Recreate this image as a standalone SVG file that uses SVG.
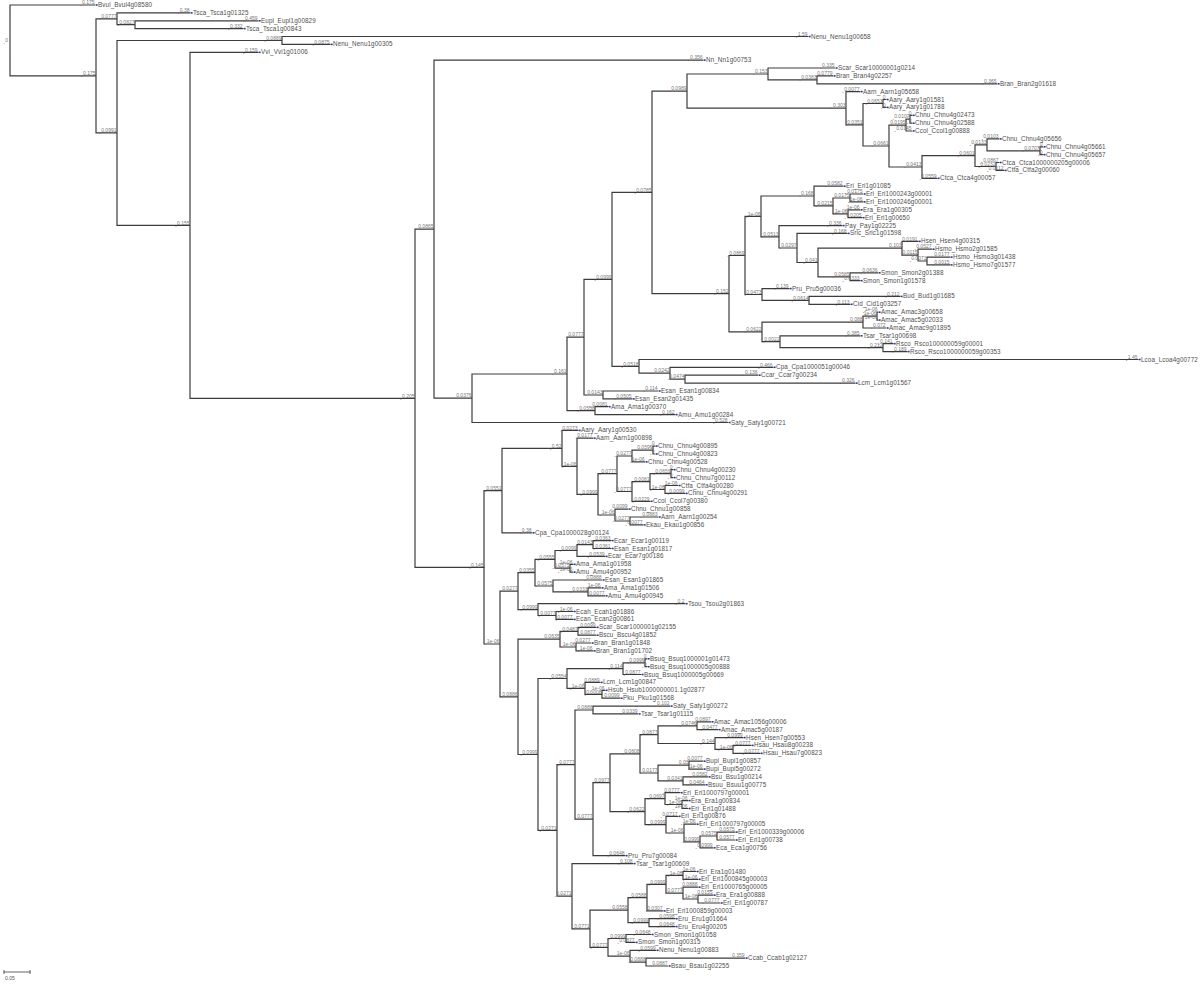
<svg xmlns="http://www.w3.org/2000/svg" xmlns:xlink="http://www.w3.org/1999/xlink" width="1200" height="984" viewBox="0 0 1200 984">
<defs>
<style>
.c{fill:none;stroke:#3c3c3c;stroke-width:1.2;stroke-linecap:square}
.l text{font-family:"Liberation Sans",Arial,sans-serif;font-size:5px;fill:#777;text-anchor:end}
.r{fill:#d22;font-size:7px;baseline-shift:-2.2px}
.lf text{font-family:"Liberation Sans",Arial,sans-serif;font-size:6.3px;fill:#505050;letter-spacing:0.1px}
.dot{fill:#2233cc}
</style>
<rect id="d" class="dot" x="-1" y="-0.8" width="1.6" height="1.6"/>
</defs>
<rect width="1200" height="984" fill="#fff"/>
<g id="connectors">
<path class="c" d="M10 5V75.9M10 5H95M10 75.9H96M96 18.8V132.9M96 18.8H117M96 132.9H117M117 12.9V24.7M117 12.9H190M117 24.7H135M135 20.8V28.6M135 20.8H258M135 28.6H243M117 40.5V225.3M117 40.5H282M117 225.3H190M282 36.5V44.4M282 36.5H808M282 44.4H330M190 52.3V398.3M190 52.3H258M190 398.3H415M415 229.2V567.3M415 229.2H434M415 567.3H484M434 60.1V398.2M434 60.1H703M434 398.2H472M472 374V422.5M472 374H567M472 422.5H728M567 337.2V410.7M567 337.2H584M567 410.7H595M595 406.7V414.6M595 406.7H608M595 414.6H675M584 279.4V395M584 279.4H612M584 395H603M603 391V398.9M603 391H658M603 398.9H632M612 192.4V366.4M612 192.4H652M612 366.4H639M639 359.5V373.2M639 359.5H1138M639 373.2H670M670 367.3V379.2M670 367.3H773M670 379.2H685M685 375.2V383.1M685 375.2H758M685 383.1H855M652 91.1V293.7M652 91.1H687M652 293.7H729M687 74V108.2M687 74H768M687 108.2H846M768 68V79.9M768 68H835M768 79.9H817M817 75.9V83.8M817 75.9H833M817 83.8H997M846 91.6V124.8M846 91.6H860M846 124.8H863M863 103.5V146M863 103.5H883M863 146H889M883 99.5V107.4M883 99.5H886M883 107.4H886M889 125.1V167M889 125.1H906M889 167H922M906 119.2V131M906 119.2H910M906 131H912M910 115.3V123.2M910 115.3H912M910 123.2H912M922 155.6V178.3M922 155.6H975M922 178.3H937M975 144.8V166.5M975 144.8H987M975 166.5H996M987 138.9V150.8M987 138.9H999M987 150.8H1040M1040 146.8V154.7M1040 146.8H1043M1040 154.7H1043M996 162.5V170.4M996 162.5H999M996 170.4H1004M729 255.5V331.9M729 255.5H745M729 331.9H762M745 216.4V294.5M745 216.4H761M745 294.5H762M761 196V236.8M761 196H814M761 236.8H779M814 186.2V205.9M814 186.2H843M814 205.9H833M833 198V213.8M833 198H850M833 213.8H848M850 194V201.9M850 194H863M850 201.9H863M848 209.8V217.7M848 209.8H860M848 217.7H862M779 225.6V248M779 225.6H842M779 248H797M797 233.4V262.5M797 233.4H847M797 262.5H818M818 248.2V276.8M818 248.2H902M818 276.8H850M902 241.3V255.1M902 241.3H918M902 255.1H918M918 249.2V261M918 249.2H932M918 261H927M927 257.1V264.9M927 257.1H950M927 264.9H950M850 272.8V280.7M850 272.8H878M850 280.7H860M762 288.6V300.4M762 288.6H789M762 300.4H809M809 296.4V304.3M809 296.4H900M809 304.3H850M762 322.1V341.7M762 322.1H863M762 341.7H780M863 316.2V328M863 316.2H877M863 328H886M877 312.2V320.1M877 312.2H878M877 320.1H878M780 335.8V347.7M780 335.8H860M780 347.7H883M883 343.7V351.6M883 343.7H893M883 351.6H907"/>
<path class="c" d="M484 490.6V644M484 490.6H502M484 644H500M502 448.4V532.8M502 448.4H562M502 532.8H532M562 430.4V466.3M562 430.4H578M562 466.3H577M577 438.2V494.4M577 438.2H593M577 494.4H598M598 473.7V515M598 473.7H617M598 515H615M617 456V491.5M617 456H632M617 491.5H632M632 450.1V461.9M632 450.1H653M632 461.9H645M653 446.1V454M653 446.1H655M653 454H655M632 481.6V501.3M632 481.6H650M632 501.3H650M650 473.7V489.5M650 473.7H671M650 489.5H665M671 469.7V477.6M671 469.7H673M671 477.6H673M665 485.5V493.4M665 485.5H678M665 493.4H685M615 509.1V521M615 509.1H628M615 521H630M630 517V524.9M630 517H658M630 524.9H643M500 591.2V696.8M500 591.2H518M500 696.8H518M518 572.7V609.6M518 572.7H535M518 609.6H538M535 559.4V586M535 559.4H555M535 586H553M555 550.5V568.2M555 550.5H577M555 568.2H570M577 544.6V556.4M577 544.6H593M577 556.4H605M593 540.6V548.5M593 540.6H611M593 548.5H611M570 564.3V572.1M570 564.3H573M570 572.1H573M553 580V591.9M553 580H602M553 591.9H588M588 587.9V595.8M588 587.9H601M588 595.8H605M538 603.7V615.5M538 603.7H685M538 615.5H556M556 611.5V619.4M556 611.5H573M556 619.4H573M518 639.1V754.5M518 639.1H560M518 754.5H538M560 631.3V647M560 631.3H578M560 647H576M578 627.3V635.2M578 627.3H596M578 635.2H596M576 643V650.9M576 643H591M576 650.9H593M538 678.5V830.4M538 678.5H567M538 830.4H557M567 668.6V688.3M567 668.6H623M567 688.3H585M623 662.8V674.5M623 662.8H645M623 674.5H641M645 658.8V666.7M645 658.8H647M645 666.7H647M585 682.4V694.3M585 682.4H600M585 694.3H602M602 690.3V698.2M602 690.3H605M602 698.2H620M557 764.6V896.2M557 764.6H575M557 896.2H572M575 710V819.2M575 710H593M575 819.2H593M593 706.1V713.9M593 706.1H670M593 713.9H638M593 782.7V855.7M593 782.7H610M593 855.7H625M610 753.8V811.6M610 753.8H640M610 811.6H645M640 734.6V773M640 734.6H658M640 773H658M658 725.8V743.5M658 725.8H697M658 743.5H715M697 721.8V729.7M697 721.8H711M697 729.7H718M715 737.6V749.4M715 737.6H743M715 749.4H733M733 745.4V753.3M733 745.4H751M733 753.3H760M658 765.2V780.9M658 765.2H689M658 780.9H683M689 761.2V769.1M689 761.2H703M689 769.1H703M683 776.9V784.8M683 776.9H708M683 784.8H705M645 798.6V824.7M645 798.6H665M645 824.7H666M665 792.7V804.5M665 792.7H680M665 804.5H682M682 800.6V808.5M682 800.6H688M682 808.5H688M666 816.3V833M666 816.3H678M666 833H684M684 824.2V841.9M684 824.2H696M684 841.9H700M700 836V847.8M700 836H717M700 847.8H713M717 832.1V840M717 832.1H735M717 840H735M572 863.6V928.8M572 863.6H633M572 928.8H590M590 910.2V947.4M590 910.2H628M590 947.4H608M628 897.6V922.7M628 897.6H647M628 922.7H649M647 884.3V910.9M647 884.3H666M647 910.9H663M666 875.4V893.1M666 875.4H683M666 893.1H683M683 871.5V879.3M683 871.5H696M683 879.3H698M683 887.2V899M683 887.2H698M683 899H698M698 895.1V903M698 895.1H713M698 903H720M649 918.7V926.6M649 918.7H675M649 926.6H675M608 938.5V956.2M608 938.5H626M608 956.2H630M626 934.5V942.4M626 934.5H651M626 942.4H635M630 950.3V962.1M630 950.3H656M630 962.1H646M646 958.1V966M646 958.1H745M646 966H668"/>
</g>
<g id="branch-labels" class="l">
<text x="8" y="42"><tspan class="r">.</tspan>0</text>
<text x="95.5" y="75.1"><tspan class="r">.</tspan>0.175</text>
<text x="116.5" y="18"><tspan class="r">.</tspan>0.0777</text>
<text x="134.5" y="23.9"><tspan class="r">.</tspan>0.0827</text>
<text x="116.5" y="132.1"><tspan class="r">.</tspan>0.0991</text>
<text x="281.5" y="39.7"><tspan class="r">.</tspan>0.0889</text>
<text x="189.5" y="224.5"><tspan class="r">.</tspan>0.155</text>
<text x="414.5" y="397.5"><tspan class="r">.</tspan>0.205</text>
<text x="433.5" y="228.4"><tspan class="r">.</tspan>0.0865</text>
<text x="471.5" y="397.4"><tspan class="r">.</tspan>0.0376</text>
<text x="566.5" y="373.2"><tspan class="r">.</tspan>0.161</text>
<text x="583.5" y="336.4"><tspan class="r">.</tspan>0.0777</text>
<text x="594.5" y="409.9"><tspan class="r">.</tspan>0.0558</text>
<text x="611.5" y="278.6"><tspan class="r">.</tspan>0.0999</text>
<text x="602.5" y="394.2"><tspan class="r">.</tspan>0.0143</text>
<text x="651.5" y="191.6"><tspan class="r">.</tspan>0.0785</text>
<text x="638.5" y="365.6"><tspan class="r">.</tspan>0.0518</text>
<text x="669.5" y="372.4"><tspan class="r">.</tspan>0.0242</text>
<text x="684.5" y="378.4"><tspan class="r">.</tspan>0.0474</text>
<text x="686.5" y="90.3"><tspan class="r">.</tspan>0.0989</text>
<text x="728.5" y="292.9"><tspan class="r">.</tspan>0.152</text>
<text x="767.5" y="73.2"><tspan class="r">.</tspan>0.153</text>
<text x="845.5" y="107.4"><tspan class="r">.</tspan>0.303</text>
<text x="816.5" y="79.1"><tspan class="r">.</tspan>0.0383</text>
<text x="862.5" y="124"><tspan class="r">.</tspan>0.0351</text>
<text x="882.5" y="102.7"><tspan class="r">.</tspan>0.0651</text>
<text x="888.5" y="145.2"><tspan class="r">.</tspan>0.0661</text>
<text x="905.5" y="124.3"><tspan class="r">.</tspan>0.0195</text>
<text x="909.5" y="118.4"><tspan class="r">.</tspan>0.0107</text>
<text x="921.5" y="166.2"><tspan class="r">.</tspan>0.0413</text>
<text x="974.5" y="154.8"><tspan class="r">.</tspan>0.0601</text>
<text x="986.5" y="144"><tspan class="r">.</tspan>0.0133</text>
<text x="1039.5" y="150"><tspan class="r">.</tspan>0.0707</text>
<text x="995.5" y="165.7"><tspan class="r">.</tspan>0.0232</text>
<text x="744.5" y="254.7"><tspan class="r">.</tspan>0.0869</text>
<text x="761.5" y="331.1"><tspan class="r">.</tspan>0.0622</text>
<text x="760.5" y="215.6"><tspan class="r">.</tspan>1e-06</text>
<text x="761.5" y="293.7"><tspan class="r">.</tspan>0.0473</text>
<text x="813.5" y="195.2"><tspan class="r">.</tspan>0.168</text>
<text x="778.5" y="236"><tspan class="r">.</tspan>0.0513</text>
<text x="832.5" y="205.1"><tspan class="r">.</tspan>0.0215</text>
<text x="849.5" y="197.2"><tspan class="r">.</tspan>0.0175</text>
<text x="847.5" y="213"><tspan class="r">.</tspan>1e-06</text>
<text x="796.5" y="247.2"><tspan class="r">.</tspan>0.0297</text>
<text x="817.5" y="261.7"><tspan class="r">.</tspan>0.041</text>
<text x="901.5" y="247.4"><tspan class="r">.</tspan>0.103</text>
<text x="849.5" y="276"><tspan class="r">.</tspan>0.0585</text>
<text x="917.5" y="254.3"><tspan class="r">.</tspan>0.0115</text>
<text x="926.5" y="260.2"><tspan class="r">.</tspan>0.0071</text>
<text x="808.5" y="299.6"><tspan class="r">.</tspan>0.0614</text>
<text x="862.5" y="321.3"><tspan class="r">.</tspan>0.088</text>
<text x="779.5" y="340.9"><tspan class="r">.</tspan>0.0022</text>
<text x="876.5" y="315.4"><tspan class="r">.</tspan>1e-06</text>
<text x="882.5" y="346.9"><tspan class="r">.</tspan>0.212</text>
<text x="483.5" y="566.5"><tspan class="r">.</tspan>0.145</text>
<text x="501.5" y="489.8"><tspan class="r">.</tspan>0.0551</text>
<text x="499.5" y="643.2"><tspan class="r">.</tspan>1e-06</text>
<text x="561.5" y="447.6"><tspan class="r">.</tspan>0.52</text>
<text x="576.5" y="465.5"><tspan class="r">.</tspan>1e-06</text>
<text x="597.5" y="493.6"><tspan class="r">.</tspan>0.0999</text>
<text x="616.5" y="472.9"><tspan class="r">.</tspan>0.0777</text>
<text x="614.5" y="514.2"><tspan class="r">.</tspan>1e-06</text>
<text x="631.5" y="455.2"><tspan class="r">.</tspan>0.0277</text>
<text x="631.5" y="490.7"><tspan class="r">.</tspan>0.0777</text>
<text x="652.5" y="449.3"><tspan class="r">.</tspan>0.0599</text>
<text x="649.5" y="480.8"><tspan class="r">.</tspan>0.0081</text>
<text x="670.5" y="472.9"><tspan class="r">.</tspan>0.0651</text>
<text x="664.5" y="488.7"><tspan class="r">.</tspan>1e-06</text>
<text x="629.5" y="520.2"><tspan class="r">.</tspan>0.0277</text>
<text x="517.5" y="590.4"><tspan class="r">.</tspan>0.0277</text>
<text x="517.5" y="696"><tspan class="r">.</tspan>0.0886</text>
<text x="534.5" y="571.9"><tspan class="r">.</tspan>0.0355</text>
<text x="537.5" y="608.8"><tspan class="r">.</tspan>0.0999</text>
<text x="554.5" y="558.6"><tspan class="r">.</tspan>0.0555</text>
<text x="552.5" y="585.2"><tspan class="r">.</tspan>0.0575</text>
<text x="576.5" y="549.7"><tspan class="r">.</tspan>0.0099</text>
<text x="569.5" y="567.4"><tspan class="r">.</tspan>0.0575</text>
<text x="592.5" y="543.8"><tspan class="r">.</tspan>0.0143</text>
<text x="587.5" y="591.1"><tspan class="r">.</tspan>0.0331</text>
<text x="555.5" y="614.7"><tspan class="r">.</tspan>0.0077</text>
<text x="559.5" y="638.3"><tspan class="r">.</tspan>0.0635</text>
<text x="537.5" y="753.7"><tspan class="r">.</tspan>0.0999</text>
<text x="577.5" y="630.5"><tspan class="r">.</tspan>0.0487</text>
<text x="575.5" y="646.2"><tspan class="r">.</tspan>1e-06</text>
<text x="566.5" y="677.7"><tspan class="r">.</tspan>0.0554</text>
<text x="556.5" y="829.6"><tspan class="r">.</tspan>0.0271</text>
<text x="622.5" y="667.8"><tspan class="r">.</tspan>0.114</text>
<text x="584.5" y="687.5"><tspan class="r">.</tspan>1e-06</text>
<text x="644.5" y="662"><tspan class="r">.</tspan>0.0999</text>
<text x="601.5" y="693.5"><tspan class="r">.</tspan>0.0008</text>
<text x="574.5" y="763.8"><tspan class="r">.</tspan>0.0777</text>
<text x="571.5" y="895.4"><tspan class="r">.</tspan>0.0271</text>
<text x="592.5" y="709.2"><tspan class="r">.</tspan>0.0888</text>
<text x="592.5" y="818.4"><tspan class="r">.</tspan>0.0777</text>
<text x="609.5" y="781.9"><tspan class="r">.</tspan>0.0977</text>
<text x="639.5" y="753"><tspan class="r">.</tspan>0.0808</text>
<text x="644.5" y="810.8"><tspan class="r">.</tspan>0.0622</text>
<text x="657.5" y="733.8"><tspan class="r">.</tspan>0.0877</text>
<text x="657.5" y="772.2"><tspan class="r">.</tspan>0.0177</text>
<text x="696.5" y="725"><tspan class="r">.</tspan>0.0746</text>
<text x="714.5" y="742.7"><tspan class="r">.</tspan>0.144</text>
<text x="732.5" y="748.6"><tspan class="r">.</tspan>1e-06</text>
<text x="688.5" y="764.4"><tspan class="r">.</tspan>0.03</text>
<text x="682.5" y="780.1"><tspan class="r">.</tspan>0.0341</text>
<text x="664.5" y="797.8"><tspan class="r">.</tspan>0.0697</text>
<text x="665.5" y="823.9"><tspan class="r">.</tspan>0.0999</text>
<text x="681.5" y="803.7"><tspan class="r">.</tspan>1e-06</text>
<text x="683.5" y="832.2"><tspan class="r">.</tspan>1e-06</text>
<text x="699.5" y="841.1"><tspan class="r">.</tspan>0.0999</text>
<text x="716.5" y="835.2"><tspan class="r">.</tspan>0.0575</text>
<text x="589.5" y="928"><tspan class="r">.</tspan>0.0771</text>
<text x="627.5" y="909.4"><tspan class="r">.</tspan>0.0558</text>
<text x="607.5" y="946.6"><tspan class="r">.</tspan>0.0777</text>
<text x="646.5" y="896.8"><tspan class="r">.</tspan>0.0588</text>
<text x="648.5" y="921.9"><tspan class="r">.</tspan>0.0999</text>
<text x="665.5" y="883.5"><tspan class="r">.</tspan>0.0999</text>
<text x="682.5" y="874.6"><tspan class="r">.</tspan>1e-06</text>
<text x="682.5" y="892.3"><tspan class="r">.</tspan>0.0777</text>
<text x="697.5" y="898.2"><tspan class="r">.</tspan>1e-06</text>
<text x="625.5" y="937.7"><tspan class="r">.</tspan>0.0999</text>
<text x="629.5" y="955.4"><tspan class="r">.</tspan>1e-06</text>
<text x="645.5" y="961.3"><tspan class="r">.</tspan>0.0888</text>
<text x="94.5" y="4.2"><tspan class="r">.</tspan>0.175</text>
<text x="189.5" y="12.1"><tspan class="r">.</tspan>0.38</text>
<text x="257.5" y="20"><tspan class="r">.</tspan>0.459</text>
<text x="242.5" y="27.8"><tspan class="r">.</tspan>0.332</text>
<text x="807.5" y="35.7"><tspan class="r">.</tspan>1.59</text>
<text x="329.5" y="43.6"><tspan class="r">.</tspan>0.0875</text>
<text x="257.5" y="51.5"><tspan class="r">.</tspan>0.159</text>
<text x="702.5" y="59.3"><tspan class="r">.</tspan>0.356</text>
<text x="834.5" y="67.2"><tspan class="r">.</tspan>0.335</text>
<text x="832.5" y="75.1"><tspan class="r">.</tspan>0.0779</text>
<text x="996.5" y="83"><tspan class="r">.</tspan>0.365</text>
<text x="859.5" y="90.8"><tspan class="r">.</tspan>0.0077</text>
<text x="885.5" y="98.7"><tspan class="r">.</tspan>0</text>
<text x="885.5" y="106.6"><tspan class="r">.</tspan>0</text>
<text x="911.5" y="114.5"><tspan class="r">.</tspan>0</text>
<text x="911.5" y="122.4"><tspan class="r">.</tspan>0</text>
<text x="911.5" y="130.2"><tspan class="r">.</tspan>0.0145</text>
<text x="998.5" y="138.1"><tspan class="r">.</tspan>0.0103</text>
<text x="1042.5" y="146"><tspan class="r">.</tspan>0</text>
<text x="1042.5" y="153.9"><tspan class="r">.</tspan>0</text>
<text x="998.5" y="161.7"><tspan class="r">.</tspan>0.0867</text>
<text x="1003.5" y="169.6"><tspan class="r">.</tspan>0.0112</text>
<text x="936.5" y="177.5"><tspan class="r">.</tspan>0.0559</text>
<text x="842.5" y="185.4"><tspan class="r">.</tspan>0.0582</text>
<text x="862.5" y="193.2"><tspan class="r">.</tspan>0.0175</text>
<text x="862.5" y="201.1"><tspan class="r">.</tspan>1e-06</text>
<text x="859.5" y="209"><tspan class="r">.</tspan>1e-06</text>
<text x="861.5" y="216.9"><tspan class="r">.</tspan>0.0205</text>
<text x="841.5" y="224.8"><tspan class="r">.</tspan>0.336</text>
<text x="846.5" y="232.6"><tspan class="r">.</tspan>0.168</text>
<text x="917.5" y="240.5"><tspan class="r">.</tspan>0.0191</text>
<text x="931.5" y="248.4"><tspan class="r">.</tspan>0.0527</text>
<text x="949.5" y="256.3"><tspan class="r">.</tspan>0.0177</text>
<text x="949.5" y="264.1"><tspan class="r">.</tspan>0.0015</text>
<text x="877.5" y="272"><tspan class="r">.</tspan>0.0636</text>
<text x="859.5" y="279.9"><tspan class="r">.</tspan>0.0333</text>
<text x="788.5" y="287.8"><tspan class="r">.</tspan>0.139</text>
<text x="899.5" y="295.6"><tspan class="r">.</tspan>0.212</text>
<text x="849.5" y="303.5"><tspan class="r">.</tspan>0.113</text>
<text x="877.5" y="311.4"><tspan class="r">.</tspan>1e-06</text>
<text x="877.5" y="319.3"><tspan class="r">.</tspan>1e-06</text>
<text x="885.5" y="327.2"><tspan class="r">.</tspan>0.072</text>
<text x="859.5" y="335"><tspan class="r">.</tspan>0.385</text>
<text x="892.5" y="342.9"><tspan class="r">.</tspan>0.141</text>
<text x="906.5" y="350.8"><tspan class="r">.</tspan>0.189</text>
<text x="1137.5" y="358.7"><tspan class="r">.</tspan>1.45</text>
<text x="772.5" y="366.5"><tspan class="r">.</tspan>0.466</text>
<text x="757.5" y="374.4"><tspan class="r">.</tspan>0.136</text>
<text x="854.5" y="382.3"><tspan class="r">.</tspan>0.326</text>
<text x="657.5" y="390.2"><tspan class="r">.</tspan>0.114</text>
<text x="631.5" y="398.1"><tspan class="r">.</tspan>0.0505</text>
<text x="607.5" y="405.9"><tspan class="r">.</tspan>0.0081</text>
<text x="674.5" y="413.8"><tspan class="r">.</tspan>0.162</text>
<text x="727.5" y="421.7"><tspan class="r">.</tspan>0.528</text>
<text x="577.5" y="429.6"><tspan class="r">.</tspan>0.0273</text>
<text x="592.5" y="437.4"><tspan class="r">.</tspan>0.0177</text>
<text x="654.5" y="445.3"><tspan class="r">.</tspan>0</text>
<text x="654.5" y="453.2"><tspan class="r">.</tspan>0</text>
<text x="644.5" y="461.1"><tspan class="r">.</tspan>1e-06</text>
<text x="672.5" y="468.9"><tspan class="r">.</tspan>0</text>
<text x="672.5" y="476.8"><tspan class="r">.</tspan>0</text>
<text x="677.5" y="484.7"><tspan class="r">.</tspan>1e-06</text>
<text x="684.5" y="492.6"><tspan class="r">.</tspan>0.0099</text>
<text x="649.5" y="500.5"><tspan class="r">.</tspan>0.0229</text>
<text x="627.5" y="508.3"><tspan class="r">.</tspan>0.0099</text>
<text x="657.5" y="516.2"><tspan class="r">.</tspan>0.0883</text>
<text x="642.5" y="524.1"><tspan class="r">.</tspan>0.0077</text>
<text x="531.5" y="532"><tspan class="r">.</tspan>0.38</text>
<text x="610.5" y="539.8"><tspan class="r">.</tspan>0.0363</text>
<text x="610.5" y="547.7"><tspan class="r">.</tspan>0.0361</text>
<text x="604.5" y="555.6"><tspan class="r">.</tspan>0.0539</text>
<text x="572.5" y="563.5"><tspan class="r">.</tspan>1e-06</text>
<text x="572.5" y="571.3"><tspan class="r">.</tspan>1e-06</text>
<text x="601.5" y="579.2"><tspan class="r">.</tspan>0.0888</text>
<text x="600.5" y="587.1"><tspan class="r">.</tspan>1e-06</text>
<text x="604.5" y="595"><tspan class="r">.</tspan>0.0077</text>
<text x="684.5" y="602.9"><tspan class="r">.</tspan>0.2</text>
<text x="572.5" y="610.7"><tspan class="r">.</tspan>1e-06</text>
<text x="572.5" y="618.6"><tspan class="r">.</tspan>0.0077</text>
<text x="595.5" y="626.5"><tspan class="r">.</tspan>0.0099</text>
<text x="595.5" y="634.4"><tspan class="r">.</tspan>0.0877</text>
<text x="590.5" y="642.2"><tspan class="r">.</tspan>0.0277</text>
<text x="592.5" y="650.1"><tspan class="r">.</tspan>1e-06</text>
<text x="646.5" y="658"><tspan class="r">.</tspan>0</text>
<text x="646.5" y="665.9"><tspan class="r">.</tspan>0</text>
<text x="640.5" y="673.7"><tspan class="r">.</tspan>0.0877</text>
<text x="599.5" y="681.6"><tspan class="r">.</tspan>0.0889</text>
<text x="604.5" y="689.5"><tspan class="r">.</tspan>1e-06</text>
<text x="619.5" y="697.4"><tspan class="r">.</tspan>0.0099</text>
<text x="669.5" y="705.3"><tspan class="r">.</tspan>0.102</text>
<text x="637.5" y="713.1"><tspan class="r">.</tspan>0.0339</text>
<text x="710.5" y="721"><tspan class="r">.</tspan>0.0897</text>
<text x="717.5" y="728.9"><tspan class="r">.</tspan>0.0477</text>
<text x="742.5" y="736.8"><tspan class="r">.</tspan>0.0999</text>
<text x="750.5" y="744.6"><tspan class="r">.</tspan>0.0777</text>
<text x="759.5" y="752.5"><tspan class="r">.</tspan>0.0777</text>
<text x="702.5" y="760.4"><tspan class="r">.</tspan>0.0077</text>
<text x="702.5" y="768.3"><tspan class="r">.</tspan>1e-06</text>
<text x="707.5" y="776.1"><tspan class="r">.</tspan>0.0582</text>
<text x="704.5" y="784"><tspan class="r">.</tspan>0.0464</text>
<text x="679.5" y="791.9"><tspan class="r">.</tspan>0.0777</text>
<text x="687.5" y="799.8"><tspan class="r">.</tspan>1e-06</text>
<text x="687.5" y="807.7"><tspan class="r">.</tspan>1e-06</text>
<text x="677.5" y="815.5"><tspan class="r">.</tspan>0.0717</text>
<text x="695.5" y="823.4"><tspan class="r">.</tspan>1e-06</text>
<text x="734.5" y="831.3"><tspan class="r">.</tspan>0.0575</text>
<text x="734.5" y="839.2"><tspan class="r">.</tspan>0.0577</text>
<text x="712.5" y="847"><tspan class="r">.</tspan>0.0999</text>
<text x="624.5" y="854.9"><tspan class="r">.</tspan>0.0648</text>
<text x="632.5" y="862.8"><tspan class="r">.</tspan>0.108</text>
<text x="695.5" y="870.7"><tspan class="r">.</tspan>1e-06</text>
<text x="697.5" y="878.5"><tspan class="r">.</tspan>1e-06</text>
<text x="697.5" y="886.4"><tspan class="r">.</tspan>0.0888</text>
<text x="712.5" y="894.3"><tspan class="r">.</tspan>0.0155</text>
<text x="719.5" y="902.2"><tspan class="r">.</tspan>0.0777</text>
<text x="662.5" y="910.1"><tspan class="r">.</tspan>0.0307</text>
<text x="674.5" y="917.9"><tspan class="r">.</tspan>0.0598</text>
<text x="674.5" y="925.8"><tspan class="r">.</tspan>0.0648</text>
<text x="650.5" y="933.7"><tspan class="r">.</tspan>0.0648</text>
<text x="634.5" y="941.6"><tspan class="r">.</tspan>0.0877</text>
<text x="655.5" y="949.5"><tspan class="r">.</tspan>0.0599</text>
<text x="744.5" y="957.3"><tspan class="r">.</tspan>0.359</text>
<text x="667.5" y="965.2"><tspan class="r">.</tspan>0.0887</text>
</g>
<g class="lf">
<g id="L0" transform="translate(97,5)"><use href="#d"/><text x="1" y="2">Bvul_Bvul4g08580</text></g>
<g id="L1" transform="translate(192,12.9)"><use href="#d"/><text x="1" y="2">Tsca_Tsca1g01325</text></g>
<g id="L2" transform="translate(260,20.8)"><use href="#d"/><text x="1" y="2">Eupl_Eupl1g00829</text></g>
<g id="L3" transform="translate(245,28.6)"><use href="#d"/><text x="1" y="2">Tsca_Tsca1g00843</text></g>
<g id="L4" transform="translate(810,36.5)"><use href="#d"/><text x="1" y="2">Nenu_Nenu1g00658</text></g>
<g id="L5" transform="translate(332,44.4)"><use href="#d"/><text x="1" y="2">Nenu_Nenu1g00305</text></g>
<g id="L6" transform="translate(260,52.3)"><use href="#d"/><text x="1" y="2">Vvi_Vvi1g01006</text></g>
<g id="L7" transform="translate(705,60.1)"><use href="#d"/><text x="1" y="2">Nn_Nn1g00753</text></g>
<g id="L8" transform="translate(837,68)"><use href="#d"/><text x="1" y="2">Scar_Scar10000001g0214</text></g>
<g id="L9" transform="translate(835,75.9)"><use href="#d"/><text x="1" y="2">Bran_Bran4g02257</text></g>
<g id="L10" transform="translate(999,83.8)"><use href="#d"/><text x="1" y="2">Bran_Bran2g01618</text></g>
<g id="L11" transform="translate(862,91.6)"><use href="#d"/><text x="1" y="2">Aarn_Aarn1g05658</text></g>
<g id="L12" transform="translate(888,99.5)"><use href="#d"/><text x="1" y="2">Aary_Aary1g01581</text></g>
<g id="L13" transform="translate(888,107.4)"><use href="#d"/><text x="1" y="2">Aary_Aary1g01788</text></g>
<g id="L14" transform="translate(914,115.3)"><use href="#d"/><text x="1" y="2">Chnu_Chnu4g02473</text></g>
<g id="L15" transform="translate(914,123.2)"><use href="#d"/><text x="1" y="2">Chnu_Chnu4g02588</text></g>
<g id="L16" transform="translate(914,131)"><use href="#d"/><text x="1" y="2">Ccol_Ccol1g00888</text></g>
<g id="L17" transform="translate(1001,138.9)"><use href="#d"/><text x="1" y="2">Chnu_Chnu4g05656</text></g>
<g id="L18" transform="translate(1045,146.8)"><use href="#d"/><text x="1" y="2">Chnu_Chnu4g05661</text></g>
<g id="L19" transform="translate(1045,154.7)"><use href="#d"/><text x="1" y="2">Chnu_Chnu4g05657</text></g>
<g id="L20" transform="translate(1001,162.5)"><use href="#d"/><text x="1" y="2">Ctca_Ctca1000000205g00006</text></g>
<g id="L21" transform="translate(1006,170.4)"><use href="#d"/><text x="1" y="2">Ctfa_Ctfa2g00060</text></g>
<g id="L22" transform="translate(939,178.3)"><use href="#d"/><text x="1" y="2">Ctca_Ctca4g00057</text></g>
<g id="L23" transform="translate(845,186.2)"><use href="#d"/><text x="1" y="2">Eri_Eri1g01085</text></g>
<g id="L24" transform="translate(865,194)"><use href="#d"/><text x="1" y="2">Eri_Eri1000243g00001</text></g>
<g id="L25" transform="translate(865,201.9)"><use href="#d"/><text x="1" y="2">Eri_Eri1000246g00001</text></g>
<g id="L26" transform="translate(862,209.8)"><use href="#d"/><text x="1" y="2">Era_Era1g00305</text></g>
<g id="L27" transform="translate(864,217.7)"><use href="#d"/><text x="1" y="2">Eri_Eri1g00650</text></g>
<g id="L28" transform="translate(844,225.6)"><use href="#d"/><text x="1" y="2">Pay_Pay1g02225</text></g>
<g id="L29" transform="translate(849,233.4)"><use href="#d"/><text x="1" y="2">Sric_Sric1g01598</text></g>
<g id="L30" transform="translate(920,241.3)"><use href="#d"/><text x="1" y="2">Hsen_Hsen4g00315</text></g>
<g id="L31" transform="translate(934,249.2)"><use href="#d"/><text x="1" y="2">Hsmo_Hsmo2g01585</text></g>
<g id="L32" transform="translate(952,257.1)"><use href="#d"/><text x="1" y="2">Hsmo_Hsmo3g01438</text></g>
<g id="L33" transform="translate(952,264.9)"><use href="#d"/><text x="1" y="2">Hsmo_Hsmo7g01577</text></g>
<g id="L34" transform="translate(880,272.8)"><use href="#d"/><text x="1" y="2">Smon_Smon2g01388</text></g>
<g id="L35" transform="translate(862,280.7)"><use href="#d"/><text x="1" y="2">Smon_Smon1g01578</text></g>
<g id="L36" transform="translate(791,288.6)"><use href="#d"/><text x="1" y="2">Pru_Pru5g00036</text></g>
<g id="L37" transform="translate(902,296.4)"><use href="#d"/><text x="1" y="2">Bud_Bud1g01685</text></g>
<g id="L38" transform="translate(852,304.3)"><use href="#d"/><text x="1" y="2">Cid_Cid1g03257</text></g>
<g id="L39" transform="translate(880,312.2)"><use href="#d"/><text x="1" y="2">Amac_Amac3g00658</text></g>
<g id="L40" transform="translate(880,320.1)"><use href="#d"/><text x="1" y="2">Amac_Amac5g02033</text></g>
<g id="L41" transform="translate(888,328)"><use href="#d"/><text x="1" y="2">Amac_Amac9g01895</text></g>
<g id="L42" transform="translate(862,335.8)"><use href="#d"/><text x="1" y="2">Tsar_Tsar1g00698</text></g>
<g id="L43" transform="translate(895,343.7)"><use href="#d"/><text x="1" y="2">Rsco_Rsco100000059g00001</text></g>
<g id="L44" transform="translate(909,351.6)"><use href="#d"/><text x="1" y="2">Rsco_Rsco1000000059g00353</text></g>
<g id="L45" transform="translate(1140,359.5)"><use href="#d"/><text x="1" y="2">Lcoa_Lcoa4g00772</text></g>
<g id="L46" transform="translate(775,367.3)"><use href="#d"/><text x="1" y="2">Cpa_Cpa1000051g00046</text></g>
<g id="L47" transform="translate(760,375.2)"><use href="#d"/><text x="1" y="2">Ccar_Ccar7g00234</text></g>
<g id="L48" transform="translate(857,383.1)"><use href="#d"/><text x="1" y="2">Lcm_Lcm1g01567</text></g>
<g id="L49" transform="translate(660,391)"><use href="#d"/><text x="1" y="2">Esan_Esan1g00834</text></g>
<g id="L50" transform="translate(634,398.9)"><use href="#d"/><text x="1" y="2">Esan_Esan2g01435</text></g>
<g id="L51" transform="translate(610,406.7)"><use href="#d"/><text x="1" y="2">Ama_Ama1g00370</text></g>
<g id="L52" transform="translate(677,414.6)"><use href="#d"/><text x="1" y="2">Amu_Amu1g00284</text></g>
<g id="L53" transform="translate(730,422.5)"><use href="#d"/><text x="1" y="2">Saty_Saty1g00721</text></g>
<g id="L54" transform="translate(580,430.4)"><use href="#d"/><text x="1" y="2">Aary_Aary1g00530</text></g>
<g id="L55" transform="translate(595,438.2)"><use href="#d"/><text x="1" y="2">Aarn_Aarn1g00898</text></g>
<g id="L56" transform="translate(657,446.1)"><use href="#d"/><text x="1" y="2">Chnu_Chnu4g00895</text></g>
<g id="L57" transform="translate(657,454)"><use href="#d"/><text x="1" y="2">Chnu_Chnu4g00823</text></g>
<g id="L58" transform="translate(647,461.9)"><use href="#d"/><text x="1" y="2">Chnu_Chnu4g00528</text></g>
<g id="L59" transform="translate(675,469.7)"><use href="#d"/><text x="1" y="2">Chnu_Chnu4g00230</text></g>
<g id="L60" transform="translate(675,477.6)"><use href="#d"/><text x="1" y="2">Chnu_Chnu7g00112</text></g>
<g id="L61" transform="translate(680,485.5)"><use href="#d"/><text x="1" y="2">Ctfa_Ctfa4g00280</text></g>
<g id="L62" transform="translate(687,493.4)"><use href="#d"/><text x="1" y="2">Chnu_Chnu4g00291</text></g>
<g id="L63" transform="translate(652,501.3)"><use href="#d"/><text x="1" y="2">Ccol_Ccol7g00380</text></g>
<g id="L64" transform="translate(630,509.1)"><use href="#d"/><text x="1" y="2">Chnu_Chnu1g00858</text></g>
<g id="L65" transform="translate(660,517)"><use href="#d"/><text x="1" y="2">Aarn_Aarn1g00254</text></g>
<g id="L66" transform="translate(645,524.9)"><use href="#d"/><text x="1" y="2">Ekau_Ekau1g00856</text></g>
<g id="L67" transform="translate(534,532.8)"><use href="#d"/><text x="1" y="2">Cpa_Cpa1000028g00124</text></g>
<g id="L68" transform="translate(613,540.6)"><use href="#d"/><text x="1" y="2">Ecar_Ecar1g00119</text></g>
<g id="L69" transform="translate(613,548.5)"><use href="#d"/><text x="1" y="2">Esan_Esan1g01817</text></g>
<g id="L70" transform="translate(607,556.4)"><use href="#d"/><text x="1" y="2">Ecar_Ecar7g00186</text></g>
<g id="L71" transform="translate(575,564.3)"><use href="#d"/><text x="1" y="2">Ama_Ama1g01958</text></g>
<g id="L72" transform="translate(575,572.1)"><use href="#d"/><text x="1" y="2">Amu_Amu4g00952</text></g>
<g id="L73" transform="translate(604,580)"><use href="#d"/><text x="1" y="2">Esan_Esan1g01865</text></g>
<g id="L74" transform="translate(603,587.9)"><use href="#d"/><text x="1" y="2">Ama_Ama1g01506</text></g>
<g id="L75" transform="translate(607,595.8)"><use href="#d"/><text x="1" y="2">Amu_Amu4g00945</text></g>
<g id="L76" transform="translate(687,603.7)"><use href="#d"/><text x="1" y="2">Tsou_Tsou2g01863</text></g>
<g id="L77" transform="translate(575,611.5)"><use href="#d"/><text x="1" y="2">Ecah_Ecah1g01886</text></g>
<g id="L78" transform="translate(575,619.4)"><use href="#d"/><text x="1" y="2">Ecan_Ecan2g00861</text></g>
<g id="L79" transform="translate(598,627.3)"><use href="#d"/><text x="1" y="2">Scar_Scar1000001g02155</text></g>
<g id="L80" transform="translate(598,635.2)"><use href="#d"/><text x="1" y="2">Bscu_Bscu4g01852</text></g>
<g id="L81" transform="translate(593,643)"><use href="#d"/><text x="1" y="2">Bran_Bran1g01848</text></g>
<g id="L82" transform="translate(595,650.9)"><use href="#d"/><text x="1" y="2">Bran_Bran1g01702</text></g>
<g id="L83" transform="translate(649,658.8)"><use href="#d"/><text x="1" y="2">Bsuq_Bsuq1000001g01473</text></g>
<g id="L84" transform="translate(649,666.7)"><use href="#d"/><text x="1" y="2">Bsuq_Bsuq1000005g00888</text></g>
<g id="L85" transform="translate(643,674.5)"><use href="#d"/><text x="1" y="2">Bsuq_Bsuq1000005g00669</text></g>
<g id="L86" transform="translate(602,682.4)"><use href="#d"/><text x="1" y="2">Lcm_Lcm1g00847</text></g>
<g id="L87" transform="translate(607,690.3)"><use href="#d"/><text x="1" y="2">Hsub_Hsub1000000001.1g02877</text></g>
<g id="L88" transform="translate(622,698.2)"><use href="#d"/><text x="1" y="2">Pku_Pku1g01568</text></g>
<g id="L89" transform="translate(672,706.1)"><use href="#d"/><text x="1" y="2">Saty_Saty1g00272</text></g>
<g id="L90" transform="translate(640,713.9)"><use href="#d"/><text x="1" y="2">Tsar_Tsar1g01115</text></g>
<g id="L91" transform="translate(713,721.8)"><use href="#d"/><text x="1" y="2">Amac_Amac1056g00006</text></g>
<g id="L92" transform="translate(720,729.7)"><use href="#d"/><text x="1" y="2">Amac_Amac5g00187</text></g>
<g id="L93" transform="translate(745,737.6)"><use href="#d"/><text x="1" y="2">Hsen_Hsen7g00553</text></g>
<g id="L94" transform="translate(753,745.4)"><use href="#d"/><text x="1" y="2">Hsau_Hsau8g00238</text></g>
<g id="L95" transform="translate(762,753.3)"><use href="#d"/><text x="1" y="2">Hsau_Hsau7g00823</text></g>
<g id="L96" transform="translate(705,761.2)"><use href="#d"/><text x="1" y="2">Bupi_Bupi1g00857</text></g>
<g id="L97" transform="translate(705,769.1)"><use href="#d"/><text x="1" y="2">Bupi_Bupi5g00272</text></g>
<g id="L98" transform="translate(710,776.9)"><use href="#d"/><text x="1" y="2">Bsu_Bsu1g00214</text></g>
<g id="L99" transform="translate(707,784.8)"><use href="#d"/><text x="1" y="2">Bsuu_Bsuu1g00775</text></g>
<g id="L100" transform="translate(682,792.7)"><use href="#d"/><text x="1" y="2">Eri_Eri1000797g00001</text></g>
<g id="L101" transform="translate(690,800.6)"><use href="#d"/><text x="1" y="2">Era_Era1g00834</text></g>
<g id="L102" transform="translate(690,808.5)"><use href="#d"/><text x="1" y="2">Eri_Eri1g01488</text></g>
<g id="L103" transform="translate(680,816.3)"><use href="#d"/><text x="1" y="2">Eri_Eri1g00876</text></g>
<g id="L104" transform="translate(698,824.2)"><use href="#d"/><text x="1" y="2">Eri_Eri1000797g00005</text></g>
<g id="L105" transform="translate(737,832.1)"><use href="#d"/><text x="1" y="2">Eri_Eri1000339g00006</text></g>
<g id="L106" transform="translate(737,840)"><use href="#d"/><text x="1" y="2">Eri_Eri1g00738</text></g>
<g id="L107" transform="translate(715,847.8)"><use href="#d"/><text x="1" y="2">Eca_Eca1g00756</text></g>
<g id="L108" transform="translate(627,855.7)"><use href="#d"/><text x="1" y="2">Pru_Pru7g00084</text></g>
<g id="L109" transform="translate(635,863.6)"><use href="#d"/><text x="1" y="2">Tsar_Tsar1g00609</text></g>
<g id="L110" transform="translate(698,871.5)"><use href="#d"/><text x="1" y="2">Eri_Era1g01480</text></g>
<g id="L111" transform="translate(700,879.3)"><use href="#d"/><text x="1" y="2">Eri_Eri1000845g00003</text></g>
<g id="L112" transform="translate(700,887.2)"><use href="#d"/><text x="1" y="2">Eri_Eri1000765g00005</text></g>
<g id="L113" transform="translate(715,895.1)"><use href="#d"/><text x="1" y="2">Era_Era1g00888</text></g>
<g id="L114" transform="translate(722,903)"><use href="#d"/><text x="1" y="2">Eri_Eri1g00787</text></g>
<g id="L115" transform="translate(665,910.9)"><use href="#d"/><text x="1" y="2">Eri_Eri1000859g00003</text></g>
<g id="L116" transform="translate(677,918.7)"><use href="#d"/><text x="1" y="2">Eru_Eru1g01664</text></g>
<g id="L117" transform="translate(677,926.6)"><use href="#d"/><text x="1" y="2">Eru_Eru4g00205</text></g>
<g id="L118" transform="translate(653,934.5)"><use href="#d"/><text x="1" y="2">Smon_Smon1g01058</text></g>
<g id="L119" transform="translate(637,942.4)"><use href="#d"/><text x="1" y="2">Smon_Smon1g00315</text></g>
<g id="L120" transform="translate(658,950.3)"><use href="#d"/><text x="1" y="2">Nenu_Nenu1g00883</text></g>
<g id="L121" transform="translate(747,958.1)"><use href="#d"/><text x="1" y="2">Ccab_Ccab1g02127</text></g>
<g id="L122" transform="translate(670,966)"><use href="#d"/><text x="1" y="2">Bsau_Bsau1g02255</text></g>
</g>
<g id="scale-bar">
<path class="c" d="M4 972H30M4 970.5V973.5M30 970.5V973.5" style="stroke-width:0.8"/>
<text x="5" y="980" style="font-family:'Liberation Sans',Arial,sans-serif;font-size:5px;fill:#555">0.05</text>
</g>
</svg>
